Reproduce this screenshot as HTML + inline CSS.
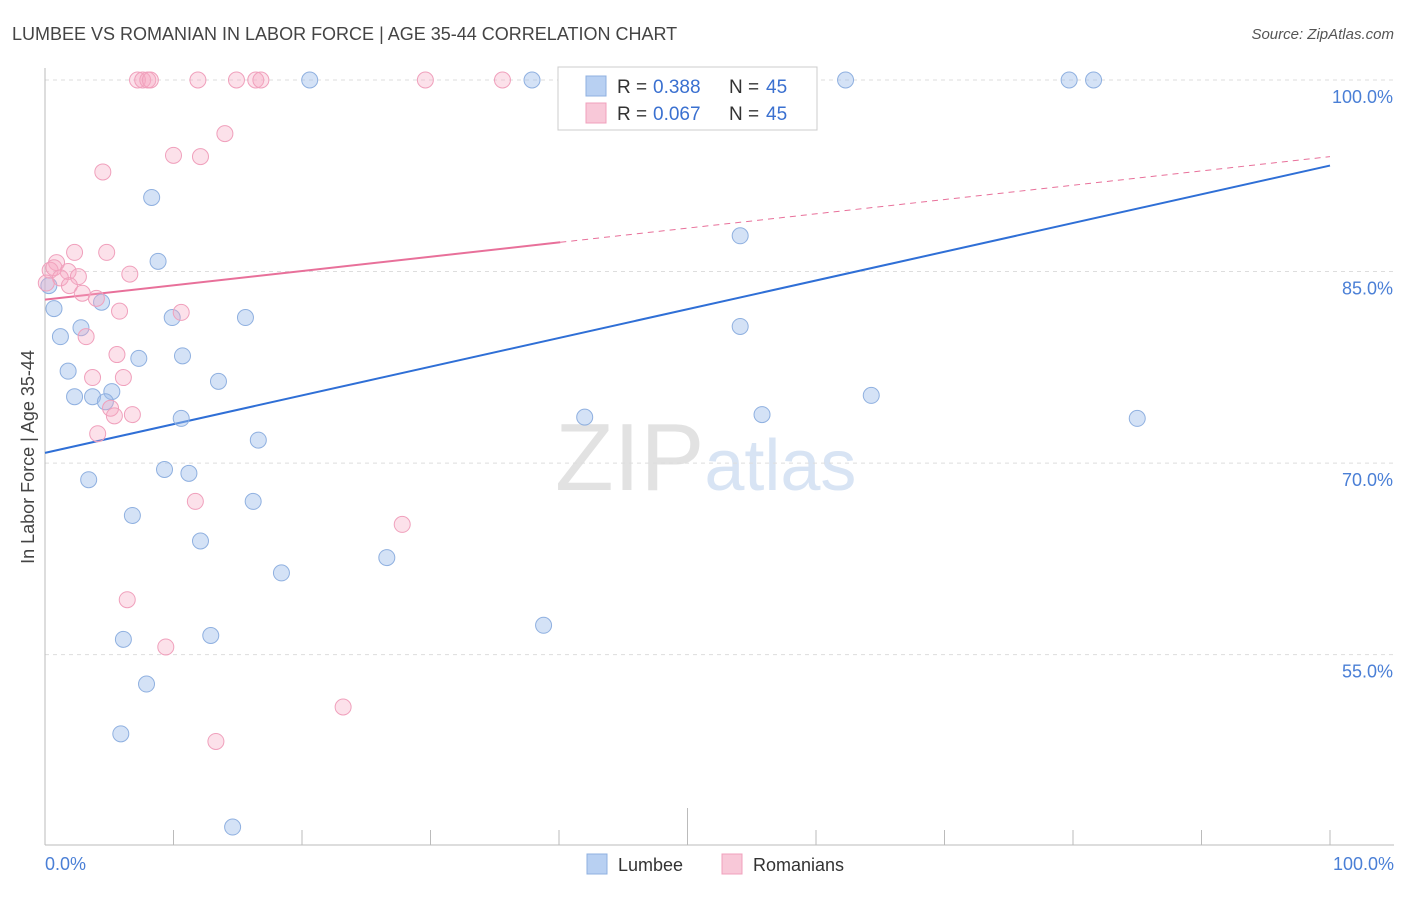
<!DOCTYPE html>
<html><head><meta charset="utf-8"><style>
body{margin:0;background:#fff;font-family:"Liberation Sans",sans-serif;}
svg text{font-family:"Liberation Sans",sans-serif;}
</style></head><body>
<svg id="chart" width="1406" height="892" viewBox="0 0 1406 892" xmlns="http://www.w3.org/2000/svg">
<text x="12" y="40" font-size="18" fill="#444">LUMBEE VS ROMANIAN IN LABOR FORCE | AGE 35-44 CORRELATION CHART</text>
<text x="1394" y="39" font-size="15" fill="#555" text-anchor="end" font-style="italic">Source: ZipAtlas.com</text>
<text x="555" y="490" font-size="96" fill="#e2e2e2" font-family="Liberation Serif">ZIP<tspan fill="#d8e4f4" font-family="Liberation Sans" font-size="72">atlas</tspan></text>
<g id="grid"></g>
<line x1="45" y1="68" x2="45" y2="845" stroke="#bbb"/>
<line x1="45" y1="845" x2="1394" y2="845" stroke="#bbb"/>
<g id="ticks"></g>
<text transform="translate(34,457) rotate(-90)" font-size="18" fill="#444" text-anchor="middle">In Labor Force | Age 35-44</text>
<text x="45" y="870" font-size="18" fill="#4a7fd6">0.0%</text>
<text x="1394" y="870" font-size="18" fill="#4a7fd6" text-anchor="end">100.0%</text>
<g id="lines"></g>
<g id="pts"></g>
<g>
<rect x="558" y="67" width="259" height="63" fill="#fff" stroke="#ccc"/>
<rect x="586" y="76" width="20" height="20" fill="#b8d0f2" stroke="#8fb0e0"/>
<text x="617" y="93" font-size="19" fill="#333">R = </text>
<text x="653" y="93" font-size="19" fill="#3a70d0">0.388</text>
<text x="729" y="93" font-size="19" fill="#333">N = </text>
<text x="766" y="93" font-size="19" fill="#3a70d0">45</text>
<rect x="586" y="103" width="20" height="20" fill="#f8c8d8" stroke="#f0a0bc"/>
<text x="617" y="120" font-size="19" fill="#333">R = </text>
<text x="653" y="120" font-size="19" fill="#3a70d0">0.067</text>
<text x="729" y="120" font-size="19" fill="#333">N = </text>
<text x="766" y="120" font-size="19" fill="#3a70d0">45</text>
</g>
<g>
<rect x="587" y="854" width="20" height="20" fill="#b8d0f2" stroke="#8fb0e0"/>
<text x="618" y="871" font-size="18" fill="#333">Lumbee</text>
<rect x="722" y="854" width="20" height="20" fill="#f8c8d8" stroke="#f0a0bc"/>
<text x="753" y="871" font-size="18" fill="#333">Romanians</text>
</g>
</svg>
<script>
const yTicks=[100,85,70,55];
const yTickLabels=["100.0%","85.0%","70.0%","55.0%"];
const lumbeeX=[20.6,37.9,62.3,79.7,81.6,8.3,8.8,54.1,0.3,0.7,4.4,9.9,15.6,54.1,1.2,2.8,7.3,10.7,1.8,13.5,2.3,3.7,5.2,4.7,10.6,42.0,55.8,64.3,85.0,16.6,9.3,11.2,3.4,16.2,6.8,12.1,26.6,18.4,38.8,6.1,12.9,7.9,5.9,14.6];
const lumbeeY=[100,100,100,100,100,90.8,85.8,87.8,83.9,82.1,82.6,81.4,81.4,80.7,79.9,80.6,78.2,78.4,77.2,76.4,75.2,75.2,75.6,74.8,73.5,73.6,73.8,75.3,73.5,71.8,69.5,69.2,68.7,67.0,65.9,63.9,62.6,61.4,57.3,56.2,56.5,52.7,48.8,41.5];
const romX=[7.2,7.6,8.0,8.2,11.9,14.9,16.4,16.8,29.6,35.6,14.0,10.0,12.1,4.5,2.3,4.8,0.9,0.4,0.7,1.8,2.6,1.2,6.6,0.1,1.9,2.9,4.0,5.8,10.6,3.2,5.6,3.7,6.1,5.1,6.8,5.4,4.1,11.7,27.8,6.4,9.4,23.2,13.3];
const romY=[100,100,100,100,100,100,100,100,100,100,95.8,94.1,94.0,92.8,86.5,86.5,85.7,85.1,85.3,85.0,84.6,84.5,84.8,84.1,83.9,83.3,82.9,81.9,81.8,79.9,78.5,76.7,76.7,74.3,73.8,73.7,72.3,67.0,65.2,59.3,55.6,50.9,48.2];
const lumbeeTrend=[70.8,93.3];
const romTrend=[82.8,94.0];
const romSolidEnd=40.1;

const NS="http://www.w3.org/2000/svg";
const sx=v=>45+v*12.85;
const sy=v=>80+(100-v)*12.77;
function mk(tag,attrs,parent){const e=document.createElementNS(NS,tag);for(const k in attrs)e.setAttribute(k,attrs[k]);parent.appendChild(e);return e;}
const grid=document.getElementById('grid');
yTicks.forEach((t,i)=>{
  const l=mk('line',{x1:45,x2:1394,y1:sy(t),y2:sy(t),stroke:'#ddd','stroke-dasharray':'4,4'},grid);
  
  
  const tx=mk('text',{x:1393,y:sy(t)+23,'font-size':18,fill:'#4a7fd6','text-anchor':'end'},grid);
  tx.textContent=yTickLabels[i];
  
  
});
const ticks=document.getElementById('ticks');
for(let i=0;i<=10;i++){
  const t=mk('line',{x1:sx(i*10),x2:sx(i*10),y1:i==5?808:830,y2:845,stroke:'#bbb'},ticks);
  
  
}
const pts=document.getElementById('pts');
lumbeeX.forEach((x,i)=>{
  const c=mk('circle',{cx:sx(x),cy:sy(lumbeeY[i]),r:8,fill:'rgba(160,190,235,0.45)',stroke:'#8fb0e0','stroke-width':1},pts);
  
  
});
romX.forEach((x,i)=>{
  const c=mk('circle',{cx:sx(x),cy:sy(romY[i]),r:8,fill:'rgba(245,170,195,0.35)',stroke:'#f0a0bc','stroke-width':1},pts);
  
  
});
const lines=document.getElementById('lines');
const bl=mk('line',{x1:sx(0),y1:sy(lumbeeTrend[0]),x2:sx(100),y2:sy(lumbeeTrend[1]),stroke:'#2f6fd6','stroke-width':2},lines);


const rAt=x=>romTrend[0]+(romTrend[1]-romTrend[0])*x/100;
const pl=mk('line',{x1:sx(0),y1:sy(rAt(0)),x2:sx(romSolidEnd),y2:sy(rAt(romSolidEnd)),stroke:'#e8709a','stroke-width':2},lines);


const pd=mk('line',{x1:sx(romSolidEnd),y1:sy(rAt(romSolidEnd)),x2:sx(100),y2:sy(rAt(100)),stroke:'#e8709a','stroke-width':1,'stroke-dasharray':'6,5'},lines);


</script>
</body></html>
